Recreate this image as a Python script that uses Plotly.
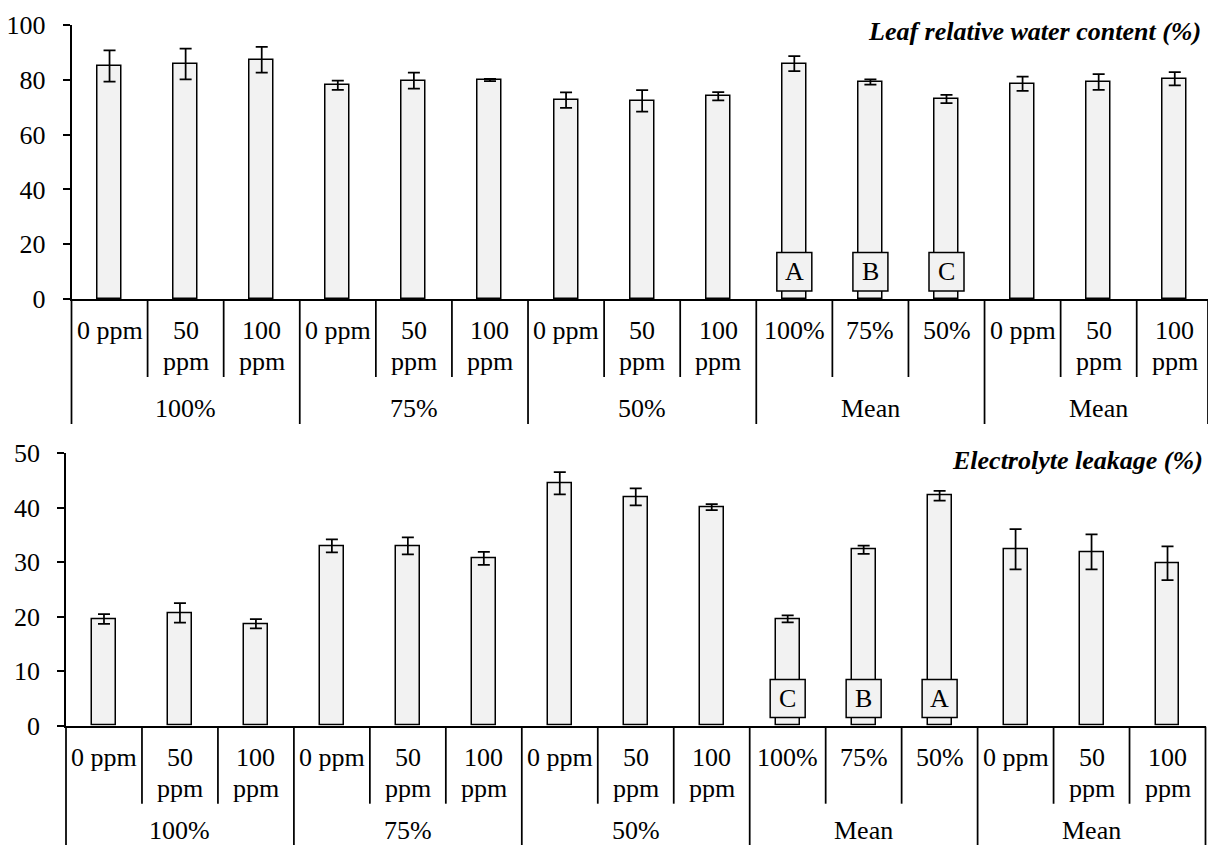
import plotly.graph_objects as go

# ---- data -------------------------------------------------------------
sub_labels = ["0 ppm", "50<br>ppm", "100<br>ppm",
              "0 ppm", "50<br>ppm", "100<br>ppm",
              "0 ppm", "50<br>ppm", "100<br>ppm",
              "100%", "75%", "50%",
              "0 ppm", "50<br>ppm", "100<br>ppm"]
group_labels = ["100%", "75%", "50%", "Mean", "Mean"]

rwc_values = [85.0, 85.8, 87.3, 78.0, 79.7, 79.9, 72.6, 72.3, 74.0,
              85.9, 79.2, 73.0, 78.6, 79.2, 80.4]
rwc_errors = [5.7, 5.6, 4.7, 1.7, 2.9, 0.4, 2.8, 3.9, 1.5,
              2.7, 1.0, 1.5, 2.6, 2.9, 2.4]
rwc_letters = {9: "A", 10: "B", 11: "C"}

el_values = [19.6, 20.7, 18.7, 33.0, 33.0, 30.7, 44.5, 42.0, 40.1,
             19.6, 32.3, 42.2, 32.4, 31.9, 29.8]
el_errors = [0.9, 1.8, 0.85, 1.2, 1.55, 1.2, 2.05, 1.55, 0.55,
             0.65, 0.75, 0.9, 3.7, 3.2, 3.1]
el_letters = {9: "C", 10: "B", 11: "A"}

# ---- page geometry (pixels) -------------------------------------------
W, H = 1208, 845
FONT = "Liberation Serif, Times New Roman, serif"
FS = 26
BAR_FILL = "#f2f2f2"
LW = 1.75

panels = [
    dict(values=rwc_values, errors=rwc_errors, letters=rwc_letters,
         title="<b><i>Leaf relative water content (%)</i></b>",
         title_right=1203, title_mid=32,
         left=71.5, right=1212.8, top=25, bottom=299, ymax=100, dtick=20,
         box=(2.9, 17.0), group_div_end=424, group_label_off=108.5),
    dict(values=el_values, errors=el_errors, letters=el_letters,
         title="<b><i>Electrolyte leakage (%)</i></b>",
         title_right=1205, title_mid=460,
         left=66.0, right=1205.5, top=453.3, bottom=725.7, ymax=50, dtick=10,
         box=(1.5, 8.5), group_div_end=850, group_label_off=104),
]

n = len(sub_labels)
fig = go.Figure()
shapes, annotations = [], []


def py(px):
    """pixel row -> paper fraction"""
    return 1 - px / H


for i, p in enumerate(panels):
    xa = "x" if i == 0 else f"x{i + 1}"
    ya = "y" if i == 0 else f"y{i + 1}"
    cat_w = (p["right"] - p["left"]) / n
    right_px = min(p["right"], W)
    x_hi = -0.5 + (right_px - p["left"]) / cat_w

    fig.add_trace(go.Bar(
        x=list(range(n)), y=p["values"], xaxis=xa, yaxis=ya,
        width=0.315, marker=dict(color=BAR_FILL, line=dict(color="black", width=1.5)),
        error_y=dict(type="data", array=p["errors"], visible=True,
                     color="black", thickness=1.75, width=6),
        showlegend=False, hoverinfo="skip"))

    lay_x = dict(domain=[p["left"] / W, right_px / W], range=[-0.5, x_hi],
                 anchor=ya, showline=True, linecolor="black", linewidth=LW,
                 showgrid=False, zeroline=False, ticks="", showticklabels=False,
                 automargin=False, fixedrange=True)
    lay_y = dict(domain=[py(p["bottom"]), py(p["top"])], range=[0, p["ymax"]],
                 dtick=p["dtick"], anchor=xa, showline=True, linecolor="black",
                 linewidth=LW, ticks="outside", ticklen=7, tickwidth=LW,
                 tickcolor="black", showgrid=False, zeroline=False,
                 tickfont=dict(family=FONT, size=FS, color="black"),
                 ticklabelstandoff=12, automargin=False, fixedrange=True)
    fig.update_layout(**{("xaxis" if i == 0 else f"xaxis{i + 1}"): lay_x,
                         ("yaxis" if i == 0 else f"yaxis{i + 1}"): lay_y})

    axis_px = p["bottom"] + 1
    # dividers below the category axis
    for k in range(1, n):
        is_group = k % 3 == 0
        end = p["group_div_end"] if is_group else axis_px + 77
        shapes.append(dict(type="line", xref=xa, yref="paper",
                           x0=k - 0.5, x1=k - 0.5, y0=py(axis_px), y1=py(end),
                           line=dict(color="black", width=LW)))
    for edge in (0, 1):
        shapes.append(dict(type="line", xref=f"{xa} domain", yref="paper",
                           x0=edge, x1=edge, y0=py(axis_px), y1=py(p["group_div_end"]),
                           line=dict(color="black", width=LW)))

    # category labels, one annotation per text line
    for k, lab in enumerate(sub_labels):
        for row, line in enumerate(lab.split("<br>")):
            annotations.append(dict(
                text=line, xref=xa, yref="paper", x=k,
                y=py(axis_px + 30.5 + 31 * row), xanchor="center", yanchor="middle",
                showarrow=False, font=dict(family=FONT, size=FS, color="black")))
    for g, lab in enumerate(group_labels):
        annotations.append(dict(
            text=lab, xref=xa, yref="paper", x=3 * g + 1,
            y=py(axis_px + p["group_label_off"]), xanchor="center", yanchor="middle",
            showarrow=False, font=dict(family=FONT, size=FS, color="black")))

    # letter boxes on the mean bars
    half = 17.5 / cat_w
    y0, y1 = p["box"]
    for k, letter in p["letters"].items():
        shapes.append(dict(type="rect", xref=xa, yref=ya, x0=k - half, x1=k + half,
                           y0=y0, y1=y1, fillcolor=BAR_FILL,
                           line=dict(color="black", width=1.5), layer="above"))
        annotations.append(dict(text=letter, xref=xa, yref=ya, x=k, y=(y0 + y1) / 2,
                                xanchor="center", yanchor="middle", showarrow=False,
                                font=dict(family=FONT, size=FS, color="black")))

    # panel title
    annotations.append(dict(text=p["title"], xref="paper", yref="paper",
                            x=p["title_right"] / W, y=py(p["title_mid"]),
                            xanchor="right", yanchor="middle", showarrow=False,
                            font=dict(family=FONT, size=FS, color="black")))

fig.update_layout(width=W, height=H, margin=dict(l=0, r=0, t=0, b=0, autoexpand=False),
                  paper_bgcolor="white", plot_bgcolor="white",
                  shapes=shapes, annotations=annotations, bargap=0)

fig.write_html("out.html")
